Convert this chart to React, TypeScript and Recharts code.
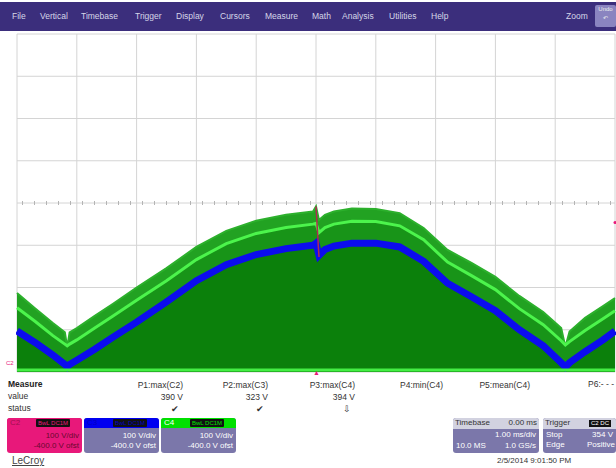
import React from "react";
import {
  ComposedChart,
  Area,
  Line,
  XAxis,
  YAxis,
  CartesianGrid,
  ReferenceLine,
  ReferenceDot,
} from "recharts";

// time in ms (1 ms/div, 10 div), volts (100 V/div, -400 V offset -> 0..800 V)
const timeMs = [0, 0.3, 0.6, 0.8, 0.84, 0.88, 1.0, 1.3, 1.6, 2.0, 2.5, 3.0, 3.5, 4.0, 4.5, 4.95, 5.0, 5.05, 5.15, 5.3, 5.6, 6.0, 6.4, 6.8, 7.2, 7.6, 8.0, 8.4, 8.8, 9.1, 9.17, 9.24, 9.5, 9.8, 10];
const c4Envelope = [187, 151, 116, 94, 59, 94, 104, 133, 161, 200, 246, 296, 334, 358, 372, 380, 392, 360, 372, 380, 387, 386, 376, 341, 289, 258, 225, 180, 142, 104, 59, 96, 128, 156, 175];
const c4Trace = [152, 120, 86, 66, 62, 66, 76, 104, 132, 170, 216, 266, 304, 328, 342, 350, 352, 330, 342, 350, 357, 356, 346, 313, 260, 228, 195, 150, 112, 74, 64, 72, 98, 126, 145];
const c3Trace = [97, 70, 40, 18, 12, 18, 28, 54, 82, 118, 166, 216, 254, 278, 292, 300, 305, 276, 290, 298, 305, 305, 296, 262, 210, 178, 145, 100, 62, 22, 12, 22, 48, 76, 97];
const c2Trace = [null, null, null, null, null, null, null, null, null, null, null, null, null, null, null, null, 392, 272, null, null, null, null, null, null, null, null, null, null, null, null, null, null, null, null, null];

const xTicks = [0, 1, 2, 3, 4, 5, 6, 7, 8, 9, 10];
const yTicks = [0, 100, 200, 300, 400, 500, 600, 700, 800];

const menuItems = ["File", "Vertical", "Timebase", "Trigger", "Display", "Cursors", "Measure", "Math", "Analysis", "Utilities", "Help"];
const menuX = [12, 40, 81, 135, 176, 220, 265, 312, 342, 389, 431];

const measureHeads = ["P1:max(C2)", "P2:max(C3)", "P3:max(C4)", "P4:min(C4)", "P5:mean(C4)"];
const measureValues = ["390 V", "323 V", "394 V", "", ""];
const measureStatus = ["\u2714", "\u2714", "\u21e9", "", ""];
const measureRight = [183, 268, 355, 443, 530];

const data = timeMs.map((t, i) => ({
  t,
  env: c4Envelope[i],
  c4: c4Trace[i],
  c3: c3Trace[i],
  c2: c2Trace[i],
}));

const font = "'Liberation Sans', Arial, sans-serif";
const boxBody = "#7b77aa";

function abs(left: number, top: number, extra: React.CSSProperties = {}): React.CSSProperties {
  return { position: "absolute", left, top, whiteSpace: "nowrap", ...extra };
}

function ChannelBox({ left, name, color, labelColor, badgeText, badgeColor }: any) {
  const pink = color === "#e8187a";
  return (
    <div style={abs(left, 418, { width: 75, height: 35, background: pink ? color : boxBody, borderRadius: 3, overflow: "hidden" })}>
      <div style={{ height: 10, background: color, position: "relative" }}>
        <span style={abs(3, 0, { fontSize: 8, lineHeight: "10px", color: labelColor })}>{name}</span>
        <span style={abs(29, 1, { fontSize: 6, lineHeight: "8px", background: "#111", color: badgeColor, padding: "0 2px", borderRadius: 1 })}>{badgeText}</span>
      </div>
      <div style={{ textAlign: "right", paddingRight: 3, fontSize: 8, lineHeight: "10px", color: pink ? "#6a0830" : "#fff", marginTop: 3 }}>
        100 V/div
        <br />
        -400.0 V ofst
      </div>
    </div>
  );
}

export default function App() {
  return (
    <div style={{ position: "absolute", left: 0, top: 0, width: 616, height: 468, background: "#fff", fontFamily: font, overflow: "hidden" }}>
      {/* menu bar */}
      <div style={abs(0, 2, { width: 616, height: 29, background: "#3b2e7c" })}>
        {menuItems.map((m, i) => (
          <span key={m} style={abs(menuX[i], 9, { fontSize: 8.5, color: "#d6d6e8" })}>{m}</span>
        ))}
        <span style={abs(566, 9, { fontSize: 8.5, color: "#d6d6e8" })}>Zoom</span>
        <div style={abs(595, 3, { width: 21, height: 22, background: "#8a84c0", borderRadius: 2, fontSize: 6, color: "#eee", textAlign: "center", lineHeight: "9px" })}>
          Undo
          <br />
          ↶
        </div>
      </div>

      {/* scope grid + traces */}
      <div style={abs(16, 33)}>
        <ComposedChart width={600} height={340} data={data} margin={{ top: 1, right: 1, bottom: 1, left: 1 }}>
          <XAxis dataKey="t" type="number" domain={[0, 10]} ticks={xTicks} hide />
          <YAxis type="number" domain={[0, 800]} ticks={yTicks} hide />
          <CartesianGrid stroke="#d4d4d4" strokeWidth={1} />
          <ReferenceLine y={400} stroke="#b4b4b4" strokeWidth={4} strokeDasharray="1 11" strokeDashoffset={-5} />
          <Area dataKey="env" type="linear" fill="#22a222" fillOpacity={1} stroke="#2cb02c" strokeWidth={2} isAnimationActive={false} dot={false} />
          <Area dataKey="c4" type="linear" fill="#189418" fillOpacity={1} stroke="none" isAnimationActive={false} dot={false} />
          <Area dataKey="c3" type="linear" fill="#0b800b" fillOpacity={1} stroke="none" isAnimationActive={false} dot={false} />
          <Line dataKey="c4" type="linear" stroke="#4cf44c" strokeWidth={3} dot={false} isAnimationActive={false} />
          <Line dataKey="c3" type="linear" stroke="#0c0cee" strokeWidth={7} dot={false} isAnimationActive={false} />
          <Line dataKey="c2" type="linear" stroke="#b02a52" strokeWidth={1.5} dot={false} connectNulls={false} isAnimationActive={false} />
          <ReferenceLine y={5} stroke="#44ee44" strokeWidth={3} />
          <ReferenceDot x={10} y={354} r={1.5} fill="#e8187a" stroke="none" />
        </ComposedChart>
      </div>
      <span style={abs(6, 360, { fontSize: 6, color: "#e8187a" })}>C2</span>
      <span style={abs(313, 369, { fontSize: 7, color: "#e8187a", lineHeight: "7px" })}>▲</span>

      {/* measure table */}
      <span style={abs(8, 379, { fontSize: 8.5, fontWeight: "bold", color: "#222" })}>Measure</span>
      <span style={abs(8, 391, { fontSize: 8.5, color: "#333" })}>value</span>
      <span style={abs(8, 403, { fontSize: 8.5, color: "#333" })}>status</span>
      {measureHeads.map((h, i) => (
        <div key={h} style={abs(measureRight[i] - 70, 379, { width: 70, textAlign: "right", fontSize: 8.5, lineHeight: "12px", color: "#333" })}>
          {h}
          <br />
          {measureValues[i] || "\u00a0"}
          <br />
          <span style={{ paddingRight: 4 }}>{measureStatus[i] || "\u00a0"}</span>
        </div>
      ))}
      <span style={abs(588, 379, { fontSize: 8.5, color: "#333" })}>P6:- - -</span>

      {/* channel boxes */}
      <ChannelBox left={7} name="C2" color="#e8187a" labelColor="#a01050" badgeText="BwL DC1M" badgeColor="#e8187a" />
      <ChannelBox left={84} name="C3" color="#0000f0" labelColor="#0000c0" badgeText="BwL DC1M" badgeColor="#0000c0" />
      <ChannelBox left={161} name="C4" color="#00e000" labelColor="#fff" badgeText="BwL DC1M" badgeColor="#00e000" />

      {/* timebase box */}
      <div style={abs(453, 418, { width: 86, height: 35, background: boxBody, borderRadius: 3, overflow: "hidden", fontSize: 8, lineHeight: "10px" })}>
        <div style={{ height: 11, background: "#d2d2e0", color: "#333", display: "flex", justifyContent: "space-between", padding: "0 2px" }}>
          <span>Timebase</span>
          <span>0.00 ms</span>
        </div>
        <div style={{ color: "#fff", padding: "1px 3px", textAlign: "right" }}>1.00 ms/div</div>
        <div style={{ color: "#fff", padding: "0 3px", display: "flex", justifyContent: "space-between" }}>
          <span>10.0 MS</span>
          <span>1.0 GS/s</span>
        </div>
      </div>

      {/* trigger box */}
      <div style={abs(543, 418, { width: 73, height: 35, background: boxBody, borderRadius: 3, overflow: "hidden", fontSize: 8, lineHeight: "10px" })}>
        <div style={{ height: 11, background: "#d2d2e0", color: "#333", position: "relative" }}>
          <span style={abs(2, 0)}>Trigger</span>
          <span style={abs(46, 2, { fontSize: 6, lineHeight: "7px", background: "#111", color: "#fff", padding: "0 2px" })}>C2 DC</span>
        </div>
        <div style={{ color: "#fff", padding: "1px 3px 0 3px", display: "flex", justifyContent: "space-between" }}>
          <span>Stop</span>
          <span>354 V</span>
        </div>
        <div style={{ color: "#fff", padding: "0 1px 0 3px", display: "flex", justifyContent: "space-between" }}>
          <span>Edge</span>
          <span>Positive</span>
        </div>
      </div>

      <span style={abs(12, 455, { fontSize: 10, color: "#444", textDecoration: "underline" })}>LeCroy</span>
      <span style={abs(497, 456, { fontSize: 8, color: "#333" })}>2/5/2014 9:01:50 PM</span>
    </div>
  );
}
